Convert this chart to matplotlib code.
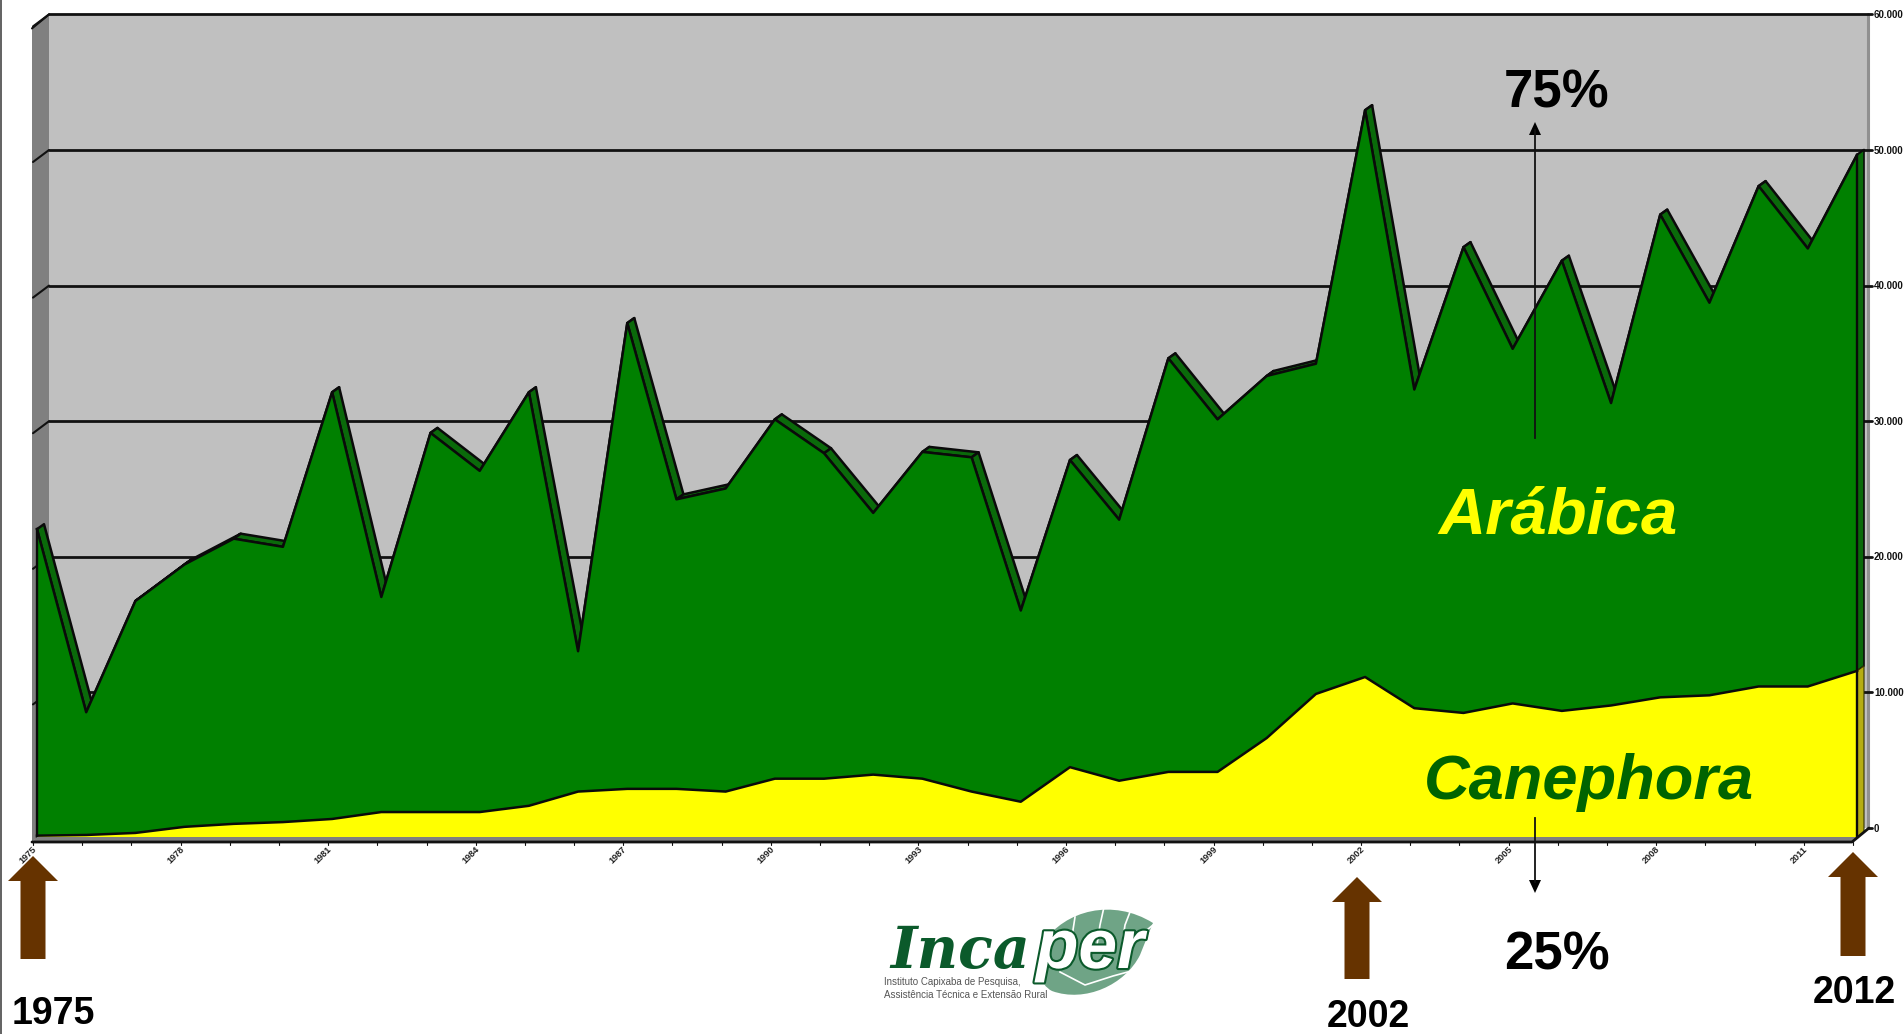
import numpy as np
import matplotlib
matplotlib.use('Agg')
import matplotlib.pyplot as plt
from matplotlib.patches import Polygon, PathPatch
from matplotlib.path import Path
from matplotlib.transforms import IdentityTransform
import matplotlib.patheffects as pe

years = list(range(1975, 2013))
total = [22700, 9200, 17400, 20100, 22000, 21400, 32800, 17700, 29800, 27000,
         32800, 13700, 37900, 24900, 25700, 30800, 28300, 23900, 28400, 28000,
         16700, 27800, 23400, 35300, 30800, 34000, 34900, 53600, 33000, 43500,
         36000, 42500, 32000, 45900, 39400, 48000, 43400, 50300]
canephora = [100, 150, 300, 750, 970, 1100, 1330, 1840, 1840, 1840,
             2300, 3350, 3550, 3550, 3350, 4300, 4300, 4600, 4300, 3350,
             2600, 5150, 4150, 4800, 4800, 7300, 10550, 11800, 9500, 9150,
             9850, 9300, 9700, 10300, 10450, 11100, 11100, 12250]
y_ticks = [0, 10000, 20000, 30000, 40000, 50000, 60000]
y_labels = ['0', '10.000', '20.000', '30.000', '40.000', '50.000', '60.000']
x_labels = years[::3]

W, H = 1904, 1034
fig = plt.figure(figsize=(W / 100, H / 100), dpi=100, facecolor='white')
plt.rcParams['font.family'] = ['Liberation Sans', 'DejaVu Sans']

# pixel axes below the chart (walls) and above it (notes)
bg = fig.add_axes([0, 0, 1, 1], zorder=0)
ax = fig.add_axes([37 / W, (H - 837) / H, 1820 / W, 813.6 / H], zorder=1)
ov = fig.add_axes([0, 0, 1, 1], zorder=2)
for a in (bg, ov):
    a.set_xlim(0, W)
    a.set_ylim(H, 0)
    a.axis('off')
    a.patch.set_alpha(0)
ax.set_xlim(1975, 2012)
ax.set_ylim(0, 60000)
ax.axis('off')


def disp(year, val, dx=0, dy=0):
    # display position of a value, shifted dx right and dy up in depth
    p = ax.transData.transform((year, val))
    return (p[0] + dx, p[1] + dy)


def poly(pts, **kw):
    ax.add_patch(Polygon(pts, closed=True, transform=IdentityTransform(), clip_on=False, **kw))


def line(pts, **kw):
    pts = np.array(pts)
    ax.plot(pts[:, 0], pts[:, 1], transform=IdentityTransform(), clip_on=False, solid_capstyle='round', **kw)


BACK = (12, 9)
SIDE = (-5, -5)
DEPTH = (7, 5)

# walls
poly([disp(1975, 0, *BACK), disp(2012, 0, *BACK), disp(2012, 60000, *BACK), disp(1975, 60000, *BACK)],
     facecolor='#c0c0c0', edgecolor='none', zorder=1)
poly([disp(1975, 0, *SIDE), disp(1975, 0, *BACK), disp(1975, 60000, *BACK), disp(1975, 60000, *SIDE)],
     facecolor='#808080', edgecolor='none', zorder=1)
x_r = disp(2012, 0, *BACK)[0]
line([(x_r - 1, disp(2012, 0, *BACK)[1]), (x_r - 1, disp(2012, 60000, *BACK)[1])], color='#909090', lw=2.2, zorder=1.5)
line([disp(1975, 60000, *SIDE), disp(1975, 60000, *BACK)], color='#111111', lw=1.5, zorder=2)

# grid lines and right ticks
for v in y_ticks:
    if v > 0:
        line([disp(1975, v, *BACK), disp(2012, v, 15, 9)], color='#111111', lw=2, zorder=2)
        line([disp(1975, v, -4, -3), disp(1975, v, *BACK)], color='#111111', lw=1.5, zorder=2)
    else:
        line([disp(2012, v, *BACK), disp(2012, v, 15, 9)], color='#111111', lw=2, zorder=2)
    px = disp(2012, v, 17, 8.5)
    ax.text(px[0], px[1], y_labels[y_ticks.index(v)], transform=IdentityTransform(), fontsize=7,
            fontweight='bold', ha='left', va='center', clip_on=False, color='#111111')

# depth faces of the areas
for i in range(len(years) - 1):
    a = disp(years[i], total[i])
    b = disp(years[i + 1], total[i + 1])
    poly([a, b, disp(years[i + 1], total[i + 1], *DEPTH), disp(years[i], total[i], *DEPTH)],
         facecolor='#0a6a0a', edgecolor='#0a0a0a', lw=1.8, joinstyle='round', zorder=3)
poly([disp(2012, canephora[-1]), disp(2012, total[-1]), disp(2012, total[-1], *DEPTH), disp(2012, canephora[-1], *DEPTH)],
     facecolor='#0a6a0a', edgecolor='#0a0a0a', lw=1.2, zorder=3.1)
poly([disp(2012, 0), disp(2012, canephora[-1]), disp(2012, canephora[-1], *DEPTH), disp(2012, 0, *DEPTH)],
     facecolor='#b5ad12', edgecolor='#333300', lw=0.8, zorder=3.1)

# front faces
ax.fill_between(years, canephora, total, facecolor='#008000', edgecolor='none', zorder=4, clip_on=False)
ax.fill_between(years, 0, canephora, facecolor='#ffff00', edgecolor='none', zorder=4, clip_on=False)
ax.plot(years, total, color='#0a0a0a', lw=1.8, zorder=5, clip_on=False)
ax.plot(years, canephora, color='#0a0a0a', lw=1.8, zorder=5, clip_on=False)
ax.plot([1975, 1975], [0, total[0]], color='#0a0a0a', lw=1.7, zorder=5, clip_on=False)
ax.plot([2012, 2012], [0, total[-1]], color='#0a0a0a', lw=1.7, zorder=5, clip_on=False)

# floor and x axis
poly([disp(1975, 0, 0, 0), disp(2012, 0, 0, 0), disp(2012, 0, -5, -5), disp(1975, 0, -5, -5)],
     facecolor='#808080', edgecolor='none', zorder=5.5)
line([disp(1975, 0, -5, -5), disp(2012, 0, -5, -5), disp(2012, 0, *BACK)], color='#111111', lw=2, zorder=6)
for y in years:
    line([disp(y, 0, -4, -5), disp(y, 0, -4, -8)], color='#111111', lw=0.8, zorder=6)
for y in x_labels:
    p = disp(y, 0, -9, -18)
    ax.text(p[0], p[1], str(y), transform=IdentityTransform(), fontsize=6.6, fontweight='bold', rotation=45,
            ha='center', va='center', color='#222222', clip_on=False)

# left border of the slide
bg.plot([0.6, 0.6], [0, H], color='#555555', lw=1.3)


def block_arrow(x, tip, base, bottom, half_head=25, half_shaft=12.5):
    ov.add_patch(Polygon([(x, tip), (x + half_head, base), (x + half_shaft, base), (x + half_shaft, bottom),
                          (x - half_shaft, bottom), (x - half_shaft, base), (x - half_head, base)],
                         closed=True, facecolor='#663300', edgecolor='none'))


block_arrow(33, 856, 881, 959)
block_arrow(1357, 877, 902, 979)
block_arrow(1853, 852, 877, 956)

ov.text(12, 1024, '1975', fontsize=27, fontweight='bold', ha='left', va='baseline')
ov.text(1327, 1027, '2002', fontsize=27, fontweight='bold', ha='left', va='baseline')
ov.text(1813, 1003, '2012', fontsize=27, fontweight='bold', ha='left', va='baseline')
ov.text(1504, 108, '75%', fontsize=38, fontweight='bold', ha='left', va='baseline')
ov.text(1504, 970, '25%', fontsize=38, fontweight='bold', ha='left', va='baseline')
ov.text(1438, 534, 'Arábica', fontsize=47, fontweight='bold', style='italic', color='#ffff00',
        ha='left', va='baseline')
ov.text(1424, 799, 'Canephora', fontsize=45.5, fontweight='bold', style='italic', color='#006400',
        ha='left', va='baseline')

# thin 75% / 25% arrows
ov.plot([1535, 1535], [438, 130], color='#111111', lw=1.3)
ov.add_patch(Polygon([(1535, 122), (1529, 135), (1541, 135)], closed=True, facecolor='black', edgecolor='none'))
ov.plot([1535, 1535], [818, 882], color='#111111', lw=1.3)
ov.add_patch(Polygon([(1535, 893), (1529, 880), (1541, 880)], closed=True, facecolor='black', edgecolor='none'))

# logo
leaf = Path([(1153, 923), (1113, 898), (1065, 910), (1043, 943), (1032, 965), (1040, 985), (1052, 991),
             (1085, 1003), (1125, 985), (1140, 955), (1146, 940), (1150, 930), (1153, 923)],
            [Path.MOVETO] + [Path.CURVE4] * 12)
ov.add_patch(PathPatch(leaf, facecolor='#6fa486', edgecolor='none'))
for vein in ([(1060, 972), (1085, 985), (1113, 976), (1135, 970)], [(1072, 948), (1073, 930), (1075, 917)],
             [(1097, 945), (1100, 925), (1104, 907)], [(1122, 945), (1125, 925), (1130, 912)],
             [(1125, 948), (1135, 940), (1153, 925)]):
    v = np.array(vein)
    ov.plot(v[:, 0], v[:, 1], color='white', lw=1.2)
ov.text(890, 968, 'Inca', fontsize=41, fontweight='bold', style='italic', family='DejaVu Serif',
        color='#0b5a2b', ha='left', va='baseline')
ov.text(1036, 968, 'per', fontsize=50, fontweight='bold', style='italic', color='white', ha='left', va='baseline',
        path_effects=[pe.withStroke(linewidth=3, foreground='#0b5a2b')])
ov.text(884, 985, 'Instituto Capixaba de Pesquisa,', fontsize=7, color='#555555', ha='left', va='baseline')
ov.text(884, 998, 'Assistência Técnica e Extensão Rural', fontsize=7, color='#555555', ha='left', va='baseline')

fig.savefig('out.png', dpi=100)
